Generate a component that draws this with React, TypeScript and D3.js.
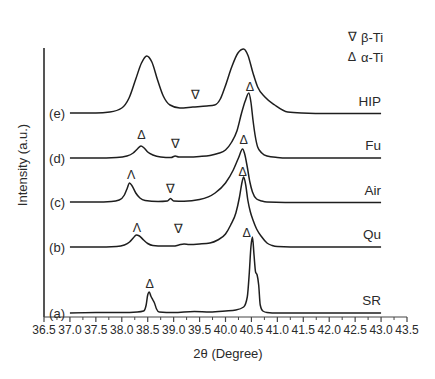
import React from "react";
import * as d3 from "d3";

// 2θ ticks
const tickValues = [36.5, 37.0, 37.5, 38.0, 38.5, 39.0, 39.5, 40.0, 40.5, 41.0, 41.5, 42.0, 42.5, 43.0, 43.5];

// Series (2θ, intensity a.u. incl. stacking offset)
const srPoints: [number, number][] = [
  [37.0, 4], [37.5, 4.5], [38.0, 4.5], [38.3, 5], [38.42, 6], [38.47, 12], [38.5, 22], [38.53, 25],
  [38.56, 21], [38.6, 17], [38.63, 14], [38.67, 8], [38.72, 5], [39.0, 4.5], [39.4, 5.5], [39.7, 5],
  [40.0, 6], [40.2, 7], [40.35, 10], [40.42, 20], [40.46, 45], [40.49, 70], [40.52, 80], [40.55, 62],
  [40.58, 45], [40.61, 42], [40.64, 32], [40.67, 12], [40.72, 6], [40.8, 4.5], [41.0, 4], [42.0, 4], [43.0, 4],
];
const quPoints: [number, number][] = [
  [37.0, 70], [37.5, 70], [37.9, 70.5], [38.05, 72], [38.15, 75], [38.22, 79], [38.28, 82], [38.34, 81],
  [38.42, 77], [38.5, 73.5], [38.6, 71.5], [38.8, 71], [39.0, 71], [39.1, 72], [39.2, 73], [39.3, 72.5],
  [39.5, 73], [39.7, 74], [39.85, 77], [40.0, 83], [40.1, 92], [40.2, 104], [40.27, 120], [40.32, 135],
  [40.35, 140], [40.39, 132], [40.43, 117], [40.48, 105], [40.53, 97], [40.6, 88], [40.7, 80], [40.8, 74],
  [40.9, 71.5], [41.0, 70.5], [41.5, 70], [42.0, 70], [43.0, 70],
];
const airPoints: [number, number][] = [
  [37.0, 115], [37.5, 115], [37.8, 115.5], [37.95, 117], [38.05, 122], [38.1, 128], [38.15, 134],
  [38.2, 131], [38.27, 124], [38.35, 119], [38.45, 116.5], [38.7, 115.5], [38.88, 116], [38.94, 118.5],
  [39.0, 116], [39.2, 115.8], [39.5, 117.5], [39.8, 124], [40.0, 134], [40.15, 147], [40.25, 159],
  [40.33, 168], [40.37, 163], [40.42, 150], [40.47, 135], [40.52, 125], [40.6, 118], [40.7, 116],
  [40.8, 115], [41.5, 114.5], [43.0, 114.5],
];
const fuPoints: [number, number][] = [
  [37.0, 159], [37.5, 159], [37.9, 159.5], [38.1, 161], [38.22, 164], [38.3, 168], [38.37, 171],
  [38.43, 169], [38.5, 165], [38.6, 162], [38.75, 160], [38.95, 159.5], [39.03, 161], [39.1, 160],
  [39.3, 160], [39.5, 160.5], [39.7, 161.5], [39.85, 163.5], [40.0, 167], [40.12, 175], [40.22, 186],
  [40.31, 204], [40.38, 216], [40.45, 224], [40.49, 215], [40.53, 197], [40.57, 182], [40.62, 170],
  [40.7, 164], [40.8, 161], [41.0, 159.5], [41.2, 159], [43.0, 159],
];
const hipPoints: [number, number][] = [
  [37.0, 204], [37.5, 204], [37.77, 205], [38.0, 209], [38.14, 219], [38.27, 238], [38.38, 254],
  [38.48, 261], [38.58, 255], [38.69, 237], [38.8, 221], [38.93, 212], [39.12, 209], [39.37, 210],
  [39.64, 211], [39.79, 212], [39.9, 218], [39.99, 230], [40.12, 250], [40.24, 264], [40.35, 268],
  [40.43, 262], [40.53, 244], [40.62, 230], [40.76, 220], [40.95, 212], [41.2, 205], [41.47, 204],
  [42.0, 203.5], [43.0, 203.5],
];

const seriesData = [srPoints, quPoints, airPoints, fuPoints, hipPoints];
const seriesTags = ["(a)", "(b)", "(c)", "(d)", "(e)"];
const sampleNames = ["SR", "Qu", "Air", "Fu", "HIP"];

// Phase markers: [2θ, intensity, glyph]
const phaseMarkers: [number, number, string][] = [
  [39.43, 222, "∇"],
  [38.38, 182, "Δ"], [39.04, 173, "∇"], [40.47, 230, "Δ"],
  [38.18, 142, "Λ"], [38.93, 128, "∇"], [40.35, 177, "Δ"],
  [38.29, 89, "Λ"], [39.1, 88, "∇"], [40.33, 145, "Δ"],
  [38.54, 33, "Δ"], [40.41, 84, "Δ"],
];
const legendItems: [string, string][] = [["∇", "β-Ti"], ["Δ", "α-Ti"]];

export default function App() {
  const W = 435, H = 379;
  const x = d3.scaleLinear().domain([36.5, 43.5]).range([44, 407]);
  const y = d3.scaleLinear().domain([0, 269]).range([317, 48]);
  const line = d3.line<[number, number]>().x((d) => x(d[0])).y((d) => y(d[1])).curve(d3.curveMonotoneX);
  const minorTicks = d3.range(36.5, 43.5001, 0.25).filter((v) => Math.abs((v * 2) % 1) > 0.01);
  const font = "Arial, 'Liberation Sans', sans-serif";
  const ink = "#2a2a2a";

  return (
    <svg width={W} height={H} style={{ position: "absolute", left: 0, top: 0, background: "#fff" }} fontFamily={font}>
      <rect width={W} height={H} fill="#fff" />
      {/* axes */}
      <line x1={x(36.5)} x2={x(36.5)} y1={y(269)} y2={y(0)} stroke="#555" strokeWidth={2} />
      <line x1={x(36.5)} x2={x(43.5)} y1={y(0)} y2={y(0)} stroke="#444" strokeWidth={1.2} />
      {tickValues.map((t) => (
        <g key={t}>
          <line x1={x(t)} x2={x(t)} y1={y(0)} y2={y(0) + 5} stroke="#444" strokeWidth={1.2} />
          <text x={x(t)} y={334} textAnchor="middle" fontSize={12} fill={ink}>{t.toFixed(1)}</text>
        </g>
      ))}
      {minorTicks.map((t) => (
        <line key={"m" + t} x1={x(t)} x2={x(t)} y1={y(0)} y2={y(0) + 3} stroke="#444" strokeWidth={1} />
      ))}
      <text x={228} y={358} textAnchor="middle" fontSize={13} fill={ink}>2θ (Degree)</text>
      <text transform="translate(27,165) rotate(-90)" textAnchor="middle" fontSize={13} fill={ink}>Intensity (a.u.)</text>

      {/* curves */}
      {seriesData.map((pts, i) => (
        <g key={i}>
          <path d={line(pts) || ""} fill="none" stroke="#1e1e1e" strokeWidth={1.5} />
          <text x={65} y={y(pts[0][1])} dy="0.35em" textAnchor="end" fontSize={13} fill={ink}>{seriesTags[i]}</text>
          <text x={x(43.0)} y={y(pts[pts.length - 1][1]) - 8} textAnchor="end" fontSize={13.5} fill={ink}>{sampleNames[i]}</text>
        </g>
      ))}

      {/* phase markers */}
      {phaseMarkers.map(([t, v, g], i) => (
        <text key={i} x={x(t)} y={y(v)} dy="0.35em" textAnchor="middle" fontSize={12.5} fill={ink}>{g}</text>
      ))}

      {/* legend */}
      {legendItems.map(([g, label], i) => (
        <g key={label}>
          <text x={352} y={37 + i * 20} dy="0.35em" textAnchor="middle" fontSize={12.5} fill={ink}>{g}</text>
          <text x={361} y={37 + i * 20} dy="0.35em" fontSize={13} fill={ink}>{label}</text>
        </g>
      ))}
    </svg>
  );
}
